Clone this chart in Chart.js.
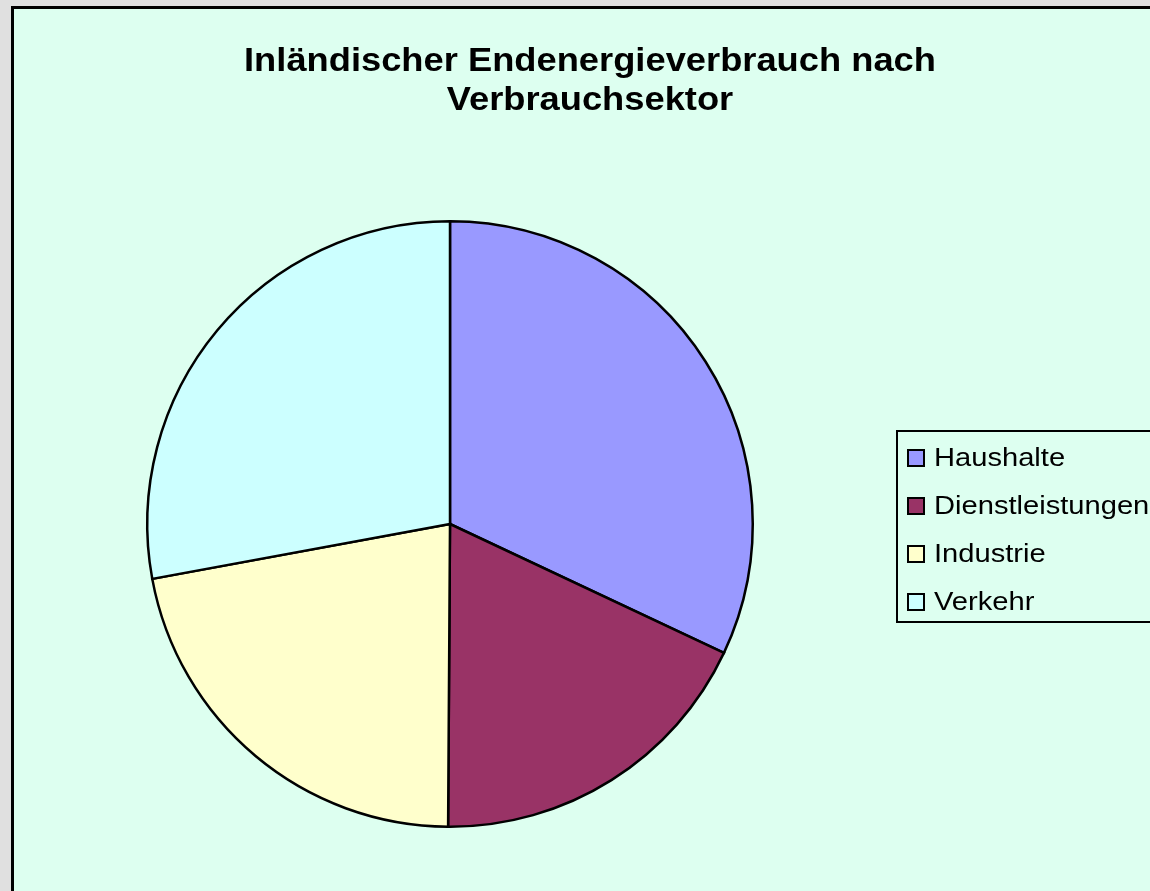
<!DOCTYPE html>
<html>
<head>
<meta charset="utf-8">
<script src="https://cdn.jsdelivr.net/npm/chart.js@4"></script>
<style>
  html, body { margin: 0; padding: 0; background: #e0e0e0; }
  #wrap { position: relative; width: 1150px; height: 891px; }
</style>
</head>
<body>
<div id="wrap"><canvas id="c" width="1150" height="891"></canvas></div>
<script>
const titleLines = ['Inländischer Endenergieverbrauch nach', 'Verbrauchsektor'];
const sectors = ['Haushalte', 'Dienstleistungen', 'Industrie', 'Verkehr'];
const shares = [32.0, 18.1, 22.0, 27.9];
const colors = ['#9999ff', '#993366', '#ffffcc', '#ccffff'];

// background, title and the boxed legend, drawn like the old office chart
const frame = {
  id: 'frame',
  beforeDraw(chart) {
    const { ctx } = chart;
    ctx.save();
    ctx.fillStyle = '#e0e0e0';
    ctx.fillRect(0, 0, 1150, 891);
    ctx.fillStyle = '#ddfff0';
    ctx.fillRect(12, 7, 1150, 900);
    ctx.strokeStyle = '#000';
    ctx.lineWidth = 3;
    ctx.strokeRect(12.5, 7.5, 1160, 900);
    ctx.restore();
  },
  afterDraw(chart) {
    const { ctx } = chart;
    ctx.save();
    ctx.fillStyle = '#000';
    ctx.textAlign = 'center';
    ctx.textBaseline = 'alphabetic';
    ctx.font = 'bold 33px "Liberation Sans", Arial, sans-serif';
    const base = [71, 110];
    titleLines.forEach((t, i) => {
      ctx.save();
      ctx.translate(590, base[i]);
      ctx.scale(1.1, 1);
      ctx.fillText(t, 0, 0);
      ctx.restore();
    });

    // legend box
    ctx.lineWidth = 2;
    ctx.strokeStyle = '#000';
    ctx.strokeRect(897, 431, 300, 191);
    ctx.font = '26px "Liberation Sans", Arial, sans-serif';
    ctx.textAlign = 'left';
    ctx.textBaseline = 'middle';
    sectors.forEach((s, i) => {
      const y = 458 + i * 48;
      ctx.fillStyle = colors[i];
      ctx.fillRect(908, y - 8, 16, 16);
      ctx.lineWidth = 2;
      ctx.strokeRect(908, y - 8, 16, 16);
      ctx.fillStyle = '#000';
      ctx.save();
      ctx.translate(934, y + 1);
      ctx.scale(1.12, 1);
      ctx.fillText(s, 0, 0);
      ctx.restore();
    });
    ctx.restore();
  }
};

new Chart(document.getElementById('c'), {
  type: 'pie',
  data: {
    labels: sectors,
    datasets: [{
      data: shares,
      backgroundColor: colors,
      borderColor: '#000',
      borderWidth: 2.5,
      borderJoinStyle: 'miter'
    }]
  },
  options: {
    responsive: false,
    animation: false,
    layout: { padding: { left: 146, top: 220, right: 396, bottom: 63 } },
    plugins: {
      legend: { display: false },
      title: { display: false },
      tooltip: { enabled: false }
    }
  },
  plugins: [frame]
});
</script>
</body>
</html>
